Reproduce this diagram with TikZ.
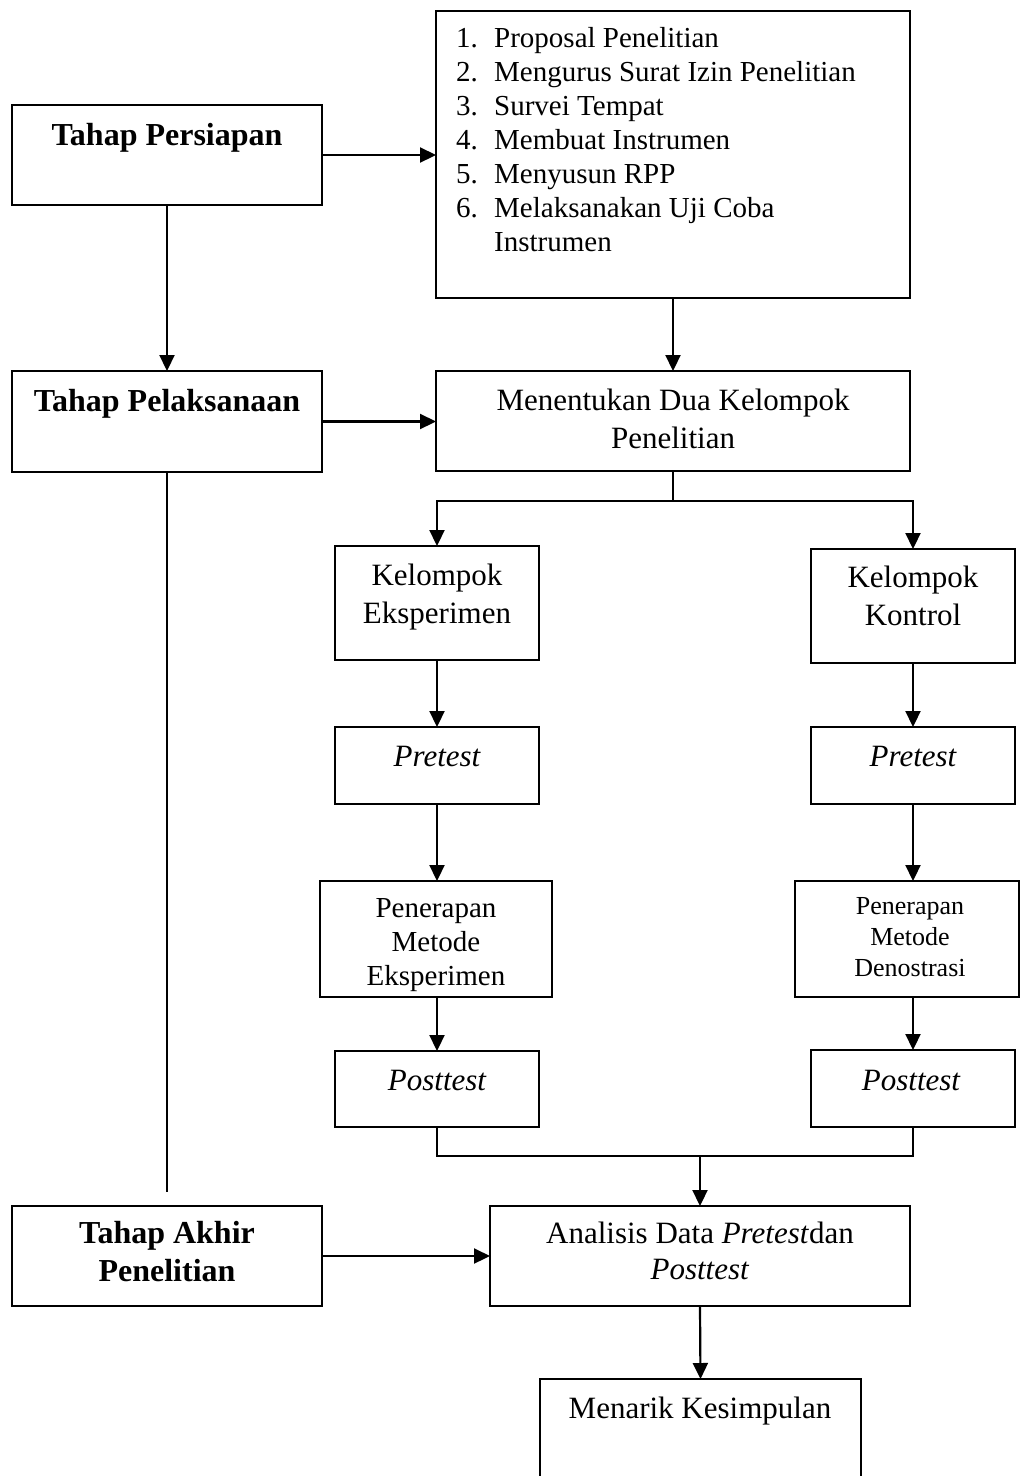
\documentclass[tikz,border=0pt]{standalone}
\usepackage{fontspec}
\setmainfont{Liberation Serif}
\usetikzlibrary{arrows.meta}
\newcommand\fsz[2]{\fontsize{#1}{#2}\selectfont}
\tikzset{
  box/.style={draw, line width=2.6pt, inner sep=0pt, outer sep=0pt, anchor=north west},
  conn/.style={line width=2.2pt},
  arr/.style={conn, -{Triangle[length=16pt,width=15pt]}},
  txt/.style={inner sep=0pt, align=center},
  hd/.style={txt, font=\fsz{32}{38}\bfseries},
}
\begin{document}
\begin{tikzpicture}[x=1pt, y=-1pt]
\useasboundingbox (0,0) rectangle (1020,1476);
\clip (0,0) rectangle (1020,1476);
\fill[white] (0,0) rectangle (1020,1476);

% boxes
\node[box, minimum width=310pt, minimum height=100pt] (persiapan) at (12,105) {};
\node[box, minimum width=310pt, minimum height=101pt] (pelaksanaan) at (12,371) {};
\node[box, minimum width=310pt, minimum height=100pt] (akhir) at (12,1206) {};
\node[box, minimum width=474pt, minimum height=287pt] (list) at (436,11) {};
\node[box, minimum width=474pt, minimum height=100pt] (menentukan) at (436,371) {};
\node[box, minimum width=204pt, minimum height=114pt] (kelE) at (335,546) {};
\node[box, minimum width=204pt, minimum height=114pt] (kelK) at (811,549) {};
\node[box, minimum width=204pt, minimum height=77pt] (preE) at (335,727) {};
\node[box, minimum width=204pt, minimum height=77pt] (preK) at (811,727) {};
\node[box, minimum width=232pt, minimum height=116pt] (penE) at (320,881) {};
\node[box, minimum width=224pt, minimum height=116pt] (penK) at (795,881) {};
\node[box, minimum width=204pt, minimum height=76pt] (posE) at (335,1051) {};
\node[box, minimum width=204pt, minimum height=77pt] (posK) at (811,1050) {};
\node[box, minimum width=420pt, minimum height=100pt] (analisis) at (490,1206) {};
\node[box, minimum width=321pt, minimum height=140pt] (kesimpulan) at (540,1379) {};

% texts
\node[hd, anchor=base] (tPersiapan) at (167,145) {Tahap Persiapan};
\node[hd, anchor=base] (tPelaksanaan) at (167,411) {Tahap Pelaksanaan};
\node[hd, anchor=north] (tAkhir) at (167,1221) {Tahap Akhir\\Penelitian};
\node[txt, align=left, anchor=north west, font=\fsz{29}{34}] (tList) at (456,27)
 {\makebox[38pt][l]{1.}Proposal Penelitian\\
  \makebox[38pt][l]{2.}Mengurus Surat Izin Penelitian\\
  \makebox[38pt][l]{3.}Survei Tempat\\
  \makebox[38pt][l]{4.}Membuat Instrumen\\
  \makebox[38pt][l]{5.}Menyusun RPP\\
  \makebox[38pt][l]{6.}Melaksanakan Uji Coba\\
  \hspace*{38pt}Instrumen};
\node[txt, anchor=north, font=\fsz{31}{38}] (tMenentukan) at (673,389) {Menentukan Dua Kelompok\\Penelitian};
\node[txt, anchor=north, font=\fsz{31}{37.5}] (tKelE) at (437,564) {Kelompok\\Eksperimen};
\node[txt, anchor=north, font=\fsz{31}{37.5}] (tKelK) at (913,566) {Kelompok\\Kontrol};
\node[txt, anchor=base, font=\fsz{31}{37}\itshape] (tPreE) at (437,766) {Pretest};
\node[txt, anchor=base, font=\fsz{31}{37}\itshape] (tPreK) at (913,766) {Pretest};
\node[txt, anchor=north, font=\fsz{29}{34}] (tPenE) at (436,898) {Penerapan\\Metode\\Eksperimen};
\node[txt, anchor=north, font=\fsz{26}{31}] (tPenK) at (910,897) {Penerapan\\Metode\\Denostrasi};
\node[txt, anchor=base, font=\fsz{31}{37}\itshape] (tPosE) at (437,1090) {Posttest};
\node[txt, anchor=base, font=\fsz{31}{37}\itshape] (tPosK) at (911,1090) {Posttest};
\node[txt, anchor=north, font=\fsz{31}{36}] (tAnalisis) at (700,1222) {Analisis Data \textit{Pretest}dan\\\textit{Posttest}};
\node[txt, anchor=base, font=\fsz{31}{37}] (tKesimpulan) at (700,1418) {Menarik Kesimpulan};

% connectors
\draw[arr] (persiapan.east) -- (persiapan.east -| list.west);
\draw[arr] (persiapan.south) -- (pelaksanaan.north);
\draw[arr] (list.south) -- (menentukan.north);
\draw[arr] (pelaksanaan.east) -- (pelaksanaan.east -| menentukan.west);
\coordinate (split) at (673,501);
\draw[conn] (menentukan.south) -- (split);
\draw[arr] (split) -| (kelE.north);
\draw[arr] (split) -| (kelK.north);
\draw[arr] (kelE.south) -- (preE.north);
\draw[arr] (kelK.south) -- (kelK.south |- preK.north);
\draw[arr] (preE.south) -- (preE.south |- penE.north);
\draw[arr] (preK.south) -- (preK.south |- penK.north);
\draw[arr] (penE.south -| posE.north) -- (posE.north);
\draw[arr] (penK.south -| posK.north) -- (posK.north);
\coordinate (merge) at (700,1156);
\draw[conn] (posE.south) |- (merge) -| (posK.south);
\draw[arr] (merge) -- (analisis.north);
\coordinate (lend) at (167,1192);
\draw[conn] (pelaksanaan.south) -- (lend);
\draw[arr] (akhir.east) -- (akhir.east -| analisis.west);
\draw[arr] (analisis.south) -- (kesimpulan.north);
\end{tikzpicture}
\end{document}
